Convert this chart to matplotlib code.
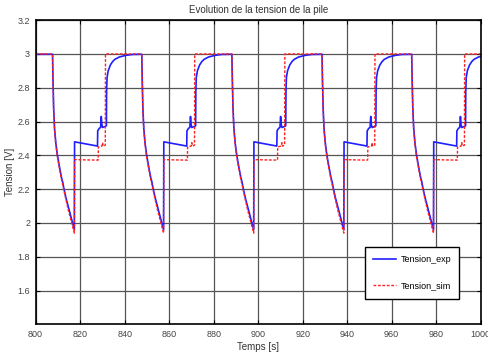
import numpy as np
import matplotlib
matplotlib.use('Agg')
from matplotlib import pyplot as plt

plt.rcParams['font.family'] = ['Liberation Sans', 'DejaVu Sans']

# start of each discharge cycle (s)
cycle_starts = [807.6, 847.7, 888.2, 928.7, 969.0]

# one cycle of the measured voltage, time relative to cycle start
exp_tau = [0.0, 0.2, 0.5, 0.9, 1.5, 2.2, 3.0, 4.0, 4.6, 5.0, 6.0, 7.0, 8.0, 9.0, 9.8,
           9.9, 12.0, 16.0, 20.2, 20.3, 21.0, 21.6, 21.9, 22.2, 22.5, 23.5, 24.2,
           24.3, 24.5, 25.0, 26.0, 27.0, 28.0, 30.0, 33.0, 36.0, 40.0]
exp_volt = [2.998, 2.85, 2.68, 2.56, 2.47, 2.40, 2.34, 2.27, 2.24, 2.21, 2.15, 2.10, 2.05, 2.00, 1.96,
            2.48, 2.475, 2.465, 2.455, 2.545, 2.56, 2.565, 2.63, 2.58, 2.565, 2.57, 2.575,
            2.78, 2.86, 2.90, 2.935, 2.955, 2.968, 2.982, 2.992, 2.997, 2.998]

# one cycle of the simulated voltage
sim_tau = [0.0, 0.2, 0.5, 0.9, 1.5, 2.2, 3.0, 4.0, 5.0, 6.0, 7.0, 8.0, 9.0, 9.8,
           9.9, 15.0, 20.5, 20.6, 22.2, 22.5, 22.8, 23.7, 23.8, 40.0]
sim_volt = [3.0, 2.84, 2.67, 2.55, 2.46, 2.39, 2.33, 2.26, 2.20, 2.14, 2.08, 2.03, 1.98, 1.94,
            2.375, 2.373, 2.372, 2.45, 2.455, 2.475, 2.455, 2.46, 3.0, 3.0]

t_min, t_max = 800, 1000

def build(tau, volt, v0):
    t = [t_min]
    v = [v0]
    for s in cycle_starts:
        t += [s + x for x in tau]
        v += volt
    return np.array(t), np.array(v)

t_exp, v_exp = build(exp_tau, exp_volt, 2.998)
t_sim, v_sim = build(sim_tau, sim_volt, 3.0)

fig = plt.figure(figsize=(4.88, 3.6), dpi=100)
ax = fig.add_axes([0.073, 0.099, 0.912, 0.845])
ax.plot(t_exp, v_exp, color='#1f1fff', lw=1.2, label='Tension_exp')
ax.plot(t_sim, v_sim, color='#ff2020', lw=1.0, ls=(0, (2.0, 1.2)), label='Tension_sim')

ax.set_xlim(t_min, t_max)
ax.set_ylim(1.4, 3.2)
ax.set_xticks(np.arange(800, 1001, 20))
ax.set_yticks([1.6, 1.8, 2.0, 2.2, 2.4, 2.6, 2.8, 3.0, 3.2])
ax.set_yticklabels(['1.6', '1.8', '2', '2.2', '2.4', '2.6', '2.8', '3', '3.2'])
ax.grid(True, color='#555555', lw=0.9, ls='-')
ax.set_axisbelow(True)
ax.tick_params(direction='in', top=True, right=True, labelsize=6.5, labelcolor='#444444',
               length=3, width=0.8, pad=4)
for sp in ax.spines.values():
    sp.set_linewidth(1.2)

ax.set_title('Evolution de la tension de la pile', fontsize=7, color='#333333', pad=5)
ax.set_xlabel('Temps [s]', fontsize=7, color='#333333', labelpad=2)
ax.set_ylabel('Tension [V]', fontsize=7, color='#333333', labelpad=2)

leg = ax.legend(loc='lower right', bbox_to_anchor=(0.962, 0.07), fontsize=6.5,
                fancybox=False, framealpha=1, edgecolor='black', labelspacing=1.9,
                handlelength=2.5, handletextpad=0.5, borderpad=0.9)
leg.get_frame().set_linewidth(1.0)

fig.savefig('out.png', dpi=100)
